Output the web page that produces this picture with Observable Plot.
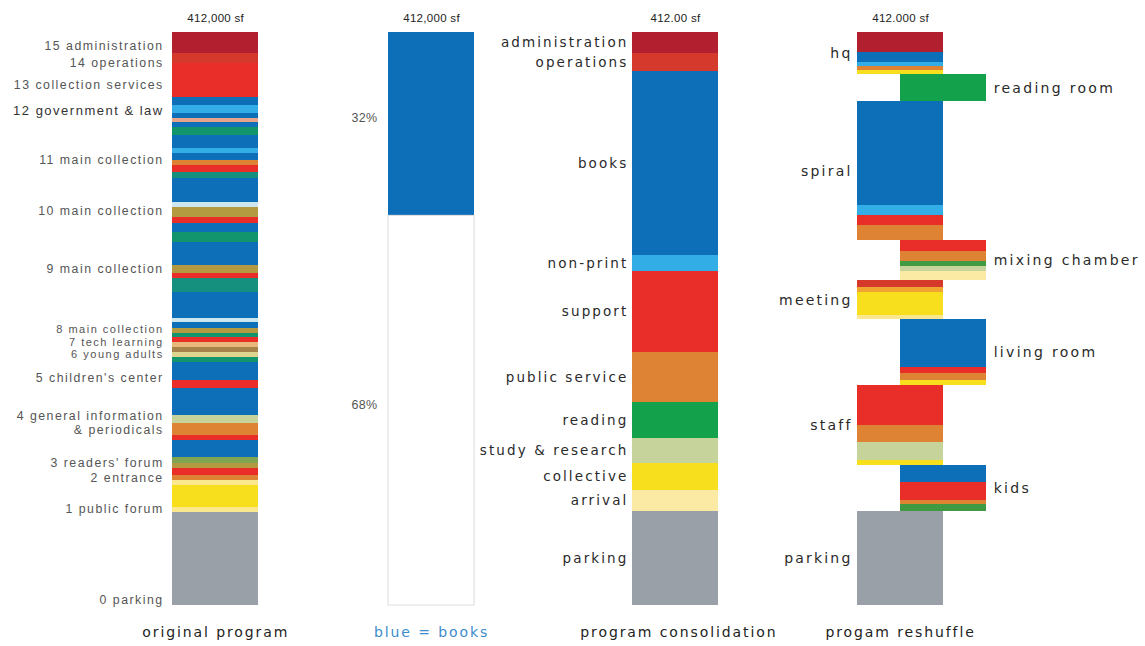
<!DOCTYPE html>
<html><head><meta charset="utf-8">
<script src="https://cdn.jsdelivr.net/npm/d3@7"></script>
<script src="https://cdn.jsdelivr.net/npm/@observablehq/plot@0.6"></script>
<style>body{margin:0;background:#fff}</style>
</head><body><div id="chart"></div>
<script>
// ---------- DATA (thousand sf, top to bottom) ----------
const TOTAL = 412;
const headerTexts = ["412,000 sf", "412,000 sf", "412.00 sf", "412.000 sf"];
const footerTexts = ["original program", "blue = books", "program consolidation", "progam reshuffle"];

// column 1: original program stripes
const originalTones = ["deep red","red orange","bright red","book blue","sky blue","book blue","salmon pink","book blue","sea green","book blue","sky blue","book blue","warm orange","bright red","teal green","book blue","pale blue","olive tone","bright red","book blue","sea green","book blue","olive tone","bright red","teal green","book blue","pale blue","book blue","olive tone","sea green","bright red","sand beige","brown tone","sand yellow","sea green","book blue","bright red","book blue","light green","warm orange","bright red","book blue","olive green","olive tone","bright red","warm orange","pale yellow","sun yellow","pale yellow","concrete"];
const originalValues = [15.1,7.2,24.4,5.8,5.8,3.6,2.9,3.6,5.8,9.3,3.6,5.0,3.6,5.0,4.3,17.3,3.6,7.2,4.3,6.5,7.2,16.5,5.8,3.6,10.1,18.7,2.9,4.3,3.6,2.9,3.6,3.6,3.6,3.6,3.6,12.9,5.8,19.4,5.8,8.6,3.6,12.2,4.3,3.6,5.0,3.6,3.6,15.8,3.6,66.9];
const originalLabels = ["15 administration","14 operations","13 collection services","12 government & law","11 main collection","10 main collection","9 main collection","8 main collection","7 tech learning","6 young adults","5 children's center","4 general information","& periodicals","3 readers' forum","2 entrance","1 public forum","0 parking"];
const originalLabelLevels = [401.9,389.7,373.9,355.9,320.0,283.3,241.6,198.4,189.1,180.2,163.2,135.9,126.5,102.1,91.3,69.7,3.6];

// column 2: books share (percent)
const shareLabels = ["32%", "68%"];
const shareTones = ["book blue", "blank"];
const sharePercents = [32, 68];

// column 3: program consolidation
const consolidationNames = ["administration","operations","books","non-print","support","public service","reading","study & research","collective","arrival","parking"];
const consolidationTones = ["deep red","red orange","book blue","sky blue","bright red","warm orange","read green","light green","sun yellow","cream","concrete"];
const consolidationValues = [15.1,12.9,132.3,11.5,58.2,36.0,25.9,18.0,19.4,15.1,67.6];

// column 4: program reshuffle (groups alternate left / right)
const reshuffleNames = ["hq","reading room","spiral","mixing chamber","meeting","living room","staff","kids","parking"];
const reshuffleTones = [
  ["deep red","book blue","sky blue","warm orange","sun yellow"],
  ["read green"],
  ["book blue","sky blue","bright red","warm orange"],
  ["bright red","warm orange","mix green","light green","cream"],
  ["red orange","amber","sun yellow","pale yellow"],
  ["book blue","bright red","warm orange","sun yellow"],
  ["bright red","warm orange","light green","sun yellow"],
  ["book blue","bright red","warm orange","mix green"],
  ["concrete"]
];
const reshuffleValues = [
  [14.4,7.2,2.9,2.9,2.9],
  [19.4],
  [74.8,7.2,7.2,10.8],
  [7.9,7.2,3.6,3.6,6.5],
  [5.0,3.6,16.5,2.9],
  [34.5,4.3,5.0,3.6],
  [28.8,12.2,12.9,3.6],
  [12.2,12.9,2.9,5.0],
  [67.6]
];

// ---------- STYLES / LAYOUT ----------
const toneNames  = ["deep red","red orange","bright red","book blue","sky blue","salmon pink","sea green","warm orange","teal green","pale blue","olive tone","sand beige","brown tone","sand yellow","light green","olive green","pale yellow","sun yellow","cream","concrete","read green","mix green","amber","blank"];
const toneColors = ["#b21f2f","#d5392b","#e92d29","#0e6fb9","#33ade5","#e8a38b","#12956c","#de8333","#15907f","#cde7f1","#b39a40","#e8b87c","#a7834c","#ddd48f","#c6d39a","#7fa552","#fbe88e","#f8df1d","#fbeaa3","#9aa0a7","#13a24b","#3f9a42","#f0a431","#ffffff"];
const colLeft = [2.0, 4.507, 7.34, 9.955];   // in bar widths
const sideShift = 0.5;
const labelFont = "DejaVu Sans, sans-serif";
const smallFont = "Liberation Sans, Arial, sans-serif";
const tightLabels = new Set(["8 main collection", "7 tech learning", "6 young adults"]);

// ---------- BUILD TABLES ----------
const segments = [];
function stackFrom(top, col, tones, values, shift) {
  const out = [];
  tones.forEach((t, i) => {
    const s = {col, tone: t, y2: top, y1: top - values[i], shift};
    segments.push(s); out.push(s); top -= values[i];
  });
  return {out, top};
}
stackFrom(TOTAL, 0, originalTones, originalValues, 0);
const shareSegs = stackFrom(TOTAL, 1, shareTones, sharePercents.map(p => p * TOTAL / 100), 0).out;
const consSegs = stackFrom(TOTAL, 2, consolidationTones, consolidationValues, 0).out;
const groupLabels = [];
{
  let top = TOTAL;
  reshuffleNames.forEach((name, g) => {
    const shift = g % 2 ? sideShift : 0;
    const r = stackFrom(top, 3, reshuffleTones[g], reshuffleValues[g], shift);
    groupLabels.push({name, right: g % 2 === 1, y: (top + r.top) / 2});
    top = r.top;
  });
}
const consLabels = consolidationNames.map((n, i) => ({name: n, y: (consSegs[i].y1 + consSegs[i].y2) / 2}));
const shareLabelData = shareLabels.map((n, i) => ({name: n, y: (shareSegs[i].y1 + shareSegs[i].y2) / 2}));
const origLabelData = originalLabels.map((n, i) => ({name: n, y: originalLabelLevels[i]}));
const cols = headerTexts.map((h, i) => ({h, f: footerTexts[i], i}));

// letter spacing for each text mark, in mark order
const spacing = ["0.3px", "1.9px", "1.5px", "0.3px", "2.1px", "2.2px", "2.3px"];

const chart = Plot.plot({
  width: 1145, height: 646,
  marginTop: 32, marginBottom: 41, marginLeft: 0, marginRight: 0,
  x: {domain: [0, 13.3], axis: null},
  y: {domain: [0, TOTAL], axis: null},
  color: {type: "ordinal", domain: toneNames, range: toneColors},
  marks: [
    Plot.rect(segments, {x1: d => colLeft[d.col] + d.shift, x2: d => colLeft[d.col] + d.shift + 1, y1: "y1", y2: "y2", fill: "tone", shapeRendering: "crispEdges"}),
    Plot.rect(segments.filter(d => d.tone === "blank"), {x1: d => colLeft[d.col], x2: d => colLeft[d.col] + 1, y1: "y1", y2: "y2", fill: "none", stroke: "#dcdcdc"}),
    Plot.text(cols, {x: d => colLeft[d.i] + 0.5, y: TOTAL, text: "h", dy: -14, fontSize: 11.5, fill: "#222", fontFamily: smallFont}),
    Plot.text(cols, {x: d => colLeft[d.i] + 0.5 + (d.i === 2 ? 0.04 : 0), y: 0, text: "f", dy: 27, fontSize: 14, fill: d => d.i === 1 ? "#3d8ccb" : "#222", fontFamily: labelFont}),
    Plot.text(origLabelData, {x: colLeft[0], y: "y", text: "name", textAnchor: "end", dx: -9, fontSize: d => d.name.startsWith("12 ") ? 13 : tightLabels.has(d.name) ? 11 : 12.3, fill: d => d.name.startsWith("12 ") ? "#333" : "#555", fontFamily: smallFont}),
    Plot.text(shareLabelData, {x: colLeft[1], y: "y", text: "name", textAnchor: "end", dx: -11, dy: -6, fontSize: 12.5, fill: "#555", fontFamily: smallFont}),
    Plot.text(consLabels, {x: colLeft[2], y: "y", text: "name", textAnchor: "end", dx: -4, fontSize: 13.5, fill: "#2a2a2a", fontFamily: labelFont}),
    Plot.text(groupLabels.filter(d => !d.right), {x: colLeft[3], y: "y", text: "name", textAnchor: "end", dx: -5, fontSize: 14, fill: "#2a2a2a", fontFamily: labelFont}),
    Plot.text(groupLabels.filter(d => d.right), {x: colLeft[3] + sideShift + 1, y: "y", text: "name", textAnchor: "start", dx: 7, fontSize: 14, fill: "#2a2a2a", fontFamily: labelFont})
  ]
});
chart.querySelectorAll('g[aria-label="text"]').forEach((g, i) => { g.style.letterSpacing = spacing[i]; });
document.getElementById("chart").appendChild(chart);
</script></body></html>
